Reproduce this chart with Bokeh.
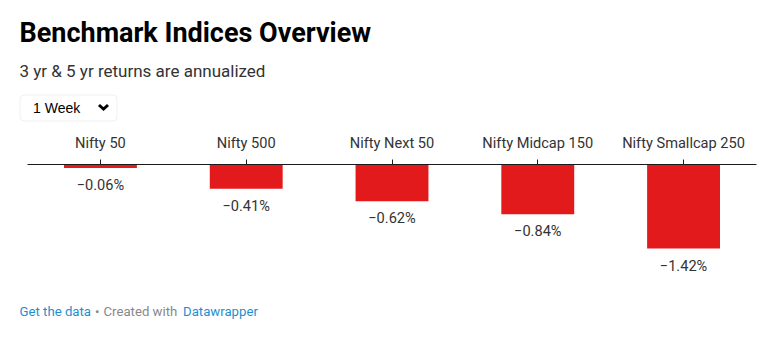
from bokeh.plotting import figure
from bokeh.layouts import column
from bokeh.models import (ColumnDataSource, Range1d, FactorRange, LabelSet, BoxAnnotation)
from bokeh.core.properties import value
from bokeh.embed import file_html
from bokeh.resources import INLINE

categories = ["Nifty 50", "Nifty 500", "Nifty Next 50", "Nifty Midcap 150", "Nifty Smallcap 250"]
returns_1w = [-0.06, -0.41, -0.62, -0.84, -1.42]
value_labels = ["\u22120.06%", "\u22120.41%", "\u22120.62%", "\u22120.84%", "\u22121.42%"]

title_text = "Benchmark Indices Overview"
subtitle_text = "3 yr & 5 yr returns are annualized"
dropdown_text = "1 Week"

W = 773
HEAD_H, CHART_H, FOOT_H = 130, 160, 60
FRAME_LEFT = 10          # common frame left edge for all three figures
AXIS_Y = 164
PX_PER_UNIT = 59.2
TOP_EXTRA_PX = 2         # small room above the zero line so it is not clipped
FONT = value("Roboto")


def plain(h, y0):
    f = figure(width=W, height=h, output_backend="svg", toolbar_location=None,
               x_range=Range1d(FRAME_LEFT, W), y_range=Range1d(y0 + h, y0),
               x_axis_location=None, y_axis_location=None,
               min_border_left=FRAME_LEFT, min_border_right=0,
               min_border_top=0, min_border_bottom=0)
    f.outline_line_color = None
    f.grid.visible = False
    f.background_fill_color = "white"
    f.border_fill_color = "white"
    return f


# ---- header ----
head = plain(HEAD_H, 0)
head.text(x=[19], y=[32], text=[title_text], text_font=FONT, text_font_style="bold",
          text_font_size="27px", text_color="#000000", text_baseline="middle")
head.text(x=[19], y=[70], text=[subtitle_text], text_font=FONT,
          text_font_size="17px", text_color="#333333", text_baseline="middle")
head.add_layout(BoxAnnotation(left=19.5, right=116.5, top=94.5, bottom=120.5,
                              fill_color="white", fill_alpha=1, line_color="#cccccc",
                              line_width=1, border_radius=4, level="underlay"))
head.text(x=[32.5], y=[107], text=[dropdown_text], text_font=value("Liberation Sans"),
          text_font_size="14px", text_color="#000000", text_baseline="middle")
head.line(x=[98.5, 103, 107.5], y=[104.5, 108.5, 104.5], line_width=3,
          line_color="#000000", line_cap="butt", line_join="miter")

# ---- chart ----
src = ColumnDataSource(dict(cat=categories, val=returns_1w, lab=value_labels,
                            zero=[0] * len(categories)))
top_pad = AXIS_Y - HEAD_H - TOP_EXTRA_PX
p = figure(width=W, height=CHART_H, output_backend="svg", toolbar_location=None,
           x_range=FactorRange(*categories, range_padding=0.0468),
           y_range=Range1d(-(CHART_H - AXIS_Y + HEAD_H) / PX_PER_UNIT,
                           TOP_EXTRA_PX / PX_PER_UNIT),
           x_axis_location="above", y_axis_location=None,
           min_border_left=FRAME_LEFT, min_border_right=0,
           min_border_top=top_pad, min_border_bottom=0)
p.outline_line_color = None
p.grid.visible = False
p.background_fill_color = "white"
p.border_fill_color = "white"

p.vbar(x="cat", top="zero", bottom="val", width=0.5, source=src,
       fill_color="#e31a1c", line_color=None)

# baseline spanning the category bands (synthetic coordinates 0..N)
p.segment(x0=[0], x1=[len(categories)], y0=[0], y1=[0], line_color="#1a1a1a", line_width=1)

ax = p.xaxis[0]
ax.axis_line_color = None
ax.major_tick_line_color = "#1a1a1a"
ax.major_tick_out = 3
ax.major_tick_in = TOP_EXTRA_PX
ax.major_label_text_font = "Roboto"
ax.major_label_text_font_size = "14.6px"
ax.major_label_text_color = "#333333"
ax.major_label_standoff = 8

labels = LabelSet(x="cat", y="val", text="lab", source=src, y_offset=-8,
                  text_align="center", text_baseline="top",
                  text_font=FONT, text_font_size="14.6px", text_color="#333333")
p.add_layout(labels)

# ---- footer ----
foot = plain(FOOT_H, HEAD_H + CHART_H)
fy = 311
foot.text(x=[19], y=[fy], text=["Get the data"], text_font=FONT, text_font_size="13.2px",
          text_color="#1d8fd0", text_baseline="middle")
foot.text(x=[94.5], y=[fy], text=["\u2022"], text_font=FONT,
          text_font_size="13.2px", text_color="#888888", text_baseline="middle")
foot.text(x=[103], y=[fy], text=["Created with"], text_font=FONT,
          text_font_size="13.2px", text_color="#888888", text_baseline="middle")
foot.text(x=[182.5], y=[fy], text=["Datawrapper"], text_font=FONT, text_font_size="13.2px",
          text_color="#1d8fd0", text_baseline="middle")

layout = column(head, p, foot, spacing=0)
open("out.html", "w").write(file_html(layout, INLINE))
